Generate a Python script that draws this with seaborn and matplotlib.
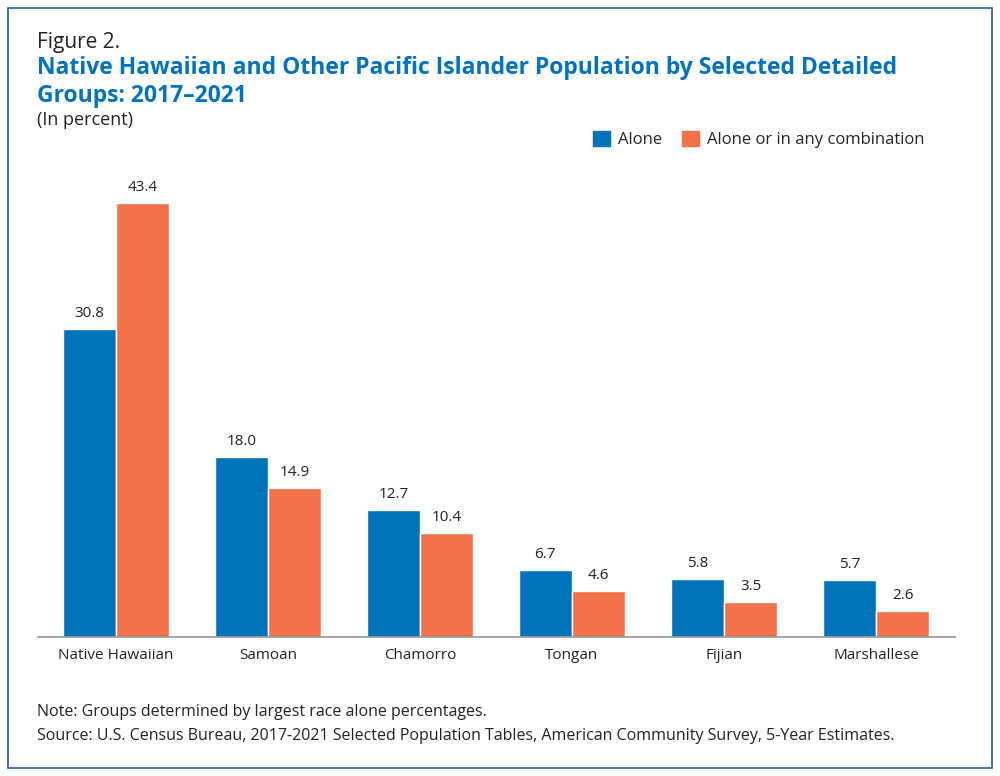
import matplotlib
matplotlib.use("Agg")
import matplotlib.pyplot as plt
import seaborn as sns
import pandas as pd
from matplotlib.patches import Rectangle, Patch

groups = ["Native Hawaiian", "Samoan", "Chamorro", "Tongan", "Fijian", "Marshallese"]
alone = [30.8, 18.0, 12.7, 6.7, 5.8, 5.7]
alone_combo = [43.4, 14.9, 10.4, 4.6, 3.5, 2.6]
series = ["Alone", "Alone or in any combination"]
colors = ["#0072BC", "#F4724A"]

df = pd.DataFrame({
    "group": groups * 2,
    "value": alone + alone_combo,
    "series": [series[0]] * len(groups) + [series[1]] * len(groups),
})

sns.set_theme(style="white")
plt.rcParams["font.family"] = ["Open Sans", "DejaVu Sans"]

fig = plt.figure(figsize=(10, 7.76), dpi=100)
ax = fig.add_axes([0.038, 0.179, 0.917, 0.6276])
sns.barplot(data=df, x="group", y="value", hue="series", palette=colors,
            width=0.7, saturation=1, ax=ax, legend=False)

for cont in ax.containers:
    ax.bar_label(cont, fmt="%.1f", padding=6, fontsize=11, color="#222222")

ax.set_xlim(-0.513, 5.52)
ax.set_ylim(0, 48.7)
ax.set_xlabel("")
ax.set_ylabel("")
ax.set_yticks([])
for s in ["top", "right", "left"]:
    ax.spines[s].set_visible(False)
ax.spines["bottom"].set_color("#999999")
ax.tick_params(axis="x", labelsize=11, colors="#222222", length=0, pad=8)

# border
fig.patches.append(Rectangle((0.008, 0.01), 0.984, 0.98, transform=fig.transFigure,
                             fill=False, edgecolor="#1F5FA8", linewidth=1.2))

fig.text(0.037, 0.945, "Figure 2.", fontsize=15, color="#222222", va="center")
fig.text(0.037, 0.912, "Native Hawaiian and Other Pacific Islander Population by Selected Detailed",
         fontsize=16.5, fontweight="bold", color="#0072BC", va="center")
fig.text(0.037, 0.876, "Groups: 2017\u20132021", fontsize=16.5, fontweight="bold",
         color="#0072BC", va="center")
fig.text(0.037, 0.845, "(In percent)", fontsize=13, color="#222222", va="center")

handles = [Patch(color=c) for c in colors]
fig.legend(handles, series, loc="center right", bbox_to_anchor=(0.94, 0.82), ncol=2,
           frameon=False, fontsize=12, handlelength=1.0, handleheight=1.0,
           columnspacing=1.2, handletextpad=0.5)

fig.text(0.037, 0.082, "Note: Groups determined by largest race alone percentages.",
         fontsize=11.5, color="#222222", va="center")
fig.text(0.037, 0.052, "Source: U.S. Census Bureau, 2017-2021 Selected Population Tables, American Community Survey, 5-Year Estimates.",
         fontsize=11.5, color="#222222", va="center")

fig.savefig("out.png", dpi=100)
